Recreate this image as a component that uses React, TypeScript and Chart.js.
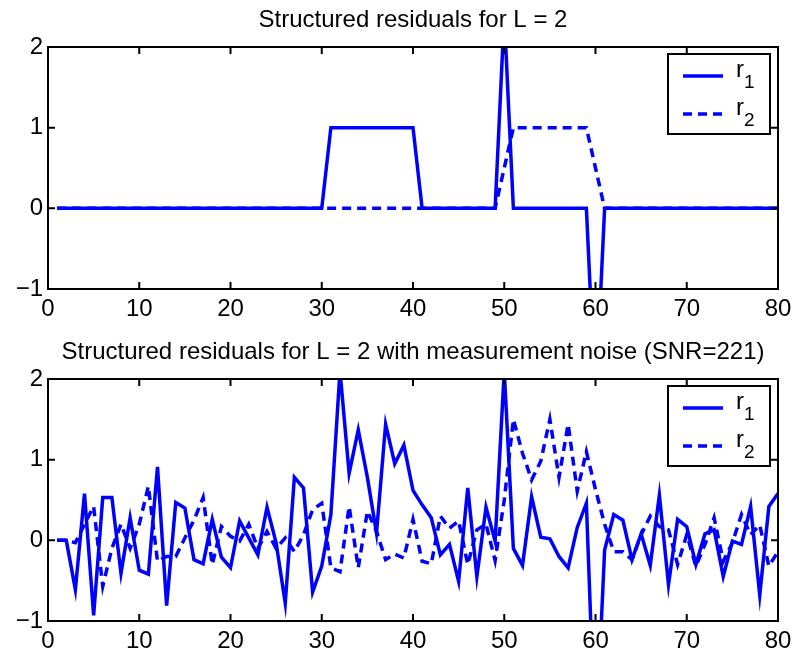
import React, { useEffect, useRef } from 'react';
import { Chart, registerables } from 'chart.js';

Chart.register(...registerables);

const FONT = '"Liberation Sans", Arial, Helvetica, sans-serif';

const sampleIndex = Array.from({ length: 80 }, (_, i) => i + 1);

const r1Clean = [
  0, 0, 0, 0, 0, 0, 0, 0, 0, 0,
  0, 0, 0, 0, 0, 0, 0, 0, 0, 0,
  0, 0, 0, 0, 0, 0, 0, 0, 0, 0,
  1, 1, 1, 1, 1, 1, 1, 1, 1, 1,
  0, 0, 0, 0, 0, 0, 0, 0, 0, 2.4,
  0, 0, 0, 0, 0, 0, 0, 0, 0, -2.4,
  0, 0, 0, 0, 0, 0, 0, 0, 0, 0,
  0, 0, 0, 0, 0, 0, 0, 0, 0, 0,
];

const r2Clean = [
  0, 0, 0, 0, 0, 0, 0, 0, 0, 0,
  0, 0, 0, 0, 0, 0, 0, 0, 0, 0,
  0, 0, 0, 0, 0, 0, 0, 0, 0, 0,
  0, 0, 0, 0, 0, 0, 0, 0, 0, 0,
  0, 0, 0, 0, 0, 0, 0, 0, 0, 0.5,
  1, 1, 1, 1, 1, 1, 1, 1, 1, 0.5,
  0, 0, 0, 0, 0, 0, 0, 0, 0, 0,
  0, 0, 0, 0, 0, 0, 0, 0, 0, 0,
];

const r1Noisy = [
  0, 0, -0.61, 0.58, -0.93, 0.53, 0.53, -0.41, 0.28, -0.37,
  -0.42, 0.91, -0.81, 0.47, 0.4, -0.24, -0.29, 0.26, -0.21, -0.34,
  0.24, 0.03, -0.18, 0.41, -0.03, -0.78, 0.78, 0.65, -0.64, -0.32,
  0.32, 2.1, 0.83, 1.37, 0.78, 0.09, 1.44, 0.95, 1.18, 0.62,
  0.44, 0.28, -0.18, -0.05, -0.51, 0.65, -0.45, 0.41, -0.01, 2.1,
  -0.1, -0.31, 0.54, 0.04, 0.02, -0.2, -0.34, 0.16, 0.46, -2.6,
  -0.12, 0.32, 0.25, -0.24, 0.08, -0.31, 0.56, -0.55, 0.26, 0.17,
  -0.3, 0.08, 0.13, -0.45, -0.01, -0.05, 0.42, -0.68, 0.42, 0.58,
];

const r2Noisy = [
  0, 0, -0.03, 0.2, 0.42, -0.57, -0.1, 0.2, -0.1, 0.2,
  0.67, -0.26, -0.2, -0.2, 0.03, 0.25, 0.53, -0.3, 0.17, 0.05,
  -0.01, 0.2, -0.1, 0.11, -0.1, 0.03, -0.14, 0.07, 0.38, 0.46,
  -0.34, -0.39, 0.42, -0.34, 0.36, 0.11, -0.24, -0.17, -0.22, 0.26,
  -0.26, -0.29, 0.3, 0.15, 0.24, -0.3, 0.13, 0.2, -0.25, 0.5,
  1.5, 1.08, 0.75, 0.98, 1.5, 0.78, 1.44, 0.61, 1.1, 0.63,
  0.2, -0.14, -0.14, -0.24, 0.07, 0.3, 0.17, 0.13, -0.3, 0.07,
  -0.32, -0.05, 0.28, -0.26, -0.03, 0.32, 0.07, 0.19, -0.32, -0.14,
];

const xTicks = [0, 10, 20, 30, 40, 50, 60, 70, 80];
const yTicks = [-1, 0, 1, 2];

const titleTop = 'Structured residuals for L = 2';
const titleBottom = 'Structured residuals for L = 2 with measurement noise (SNR=221)';

const seriesNames = ['r', 'r'];
const seriesSubs = ['1', '2'];

const BLUE = '#0000ff';
const CANVAS_W = 795;
const CANVAS_H = 320;

const fmt = (v: number) => (v < 0 ? '\u2212' + Math.abs(v) : String(v));

const matlabPlugin = {
  id: 'matlabAxes',
  afterDatasetsDraw(chart: any) {
    const { ctx, chartArea, scales } = chart;
    const { left, right, top, bottom } = chartArea;
    const tl = 7;
    ctx.save();
    ctx.strokeStyle = '#000';
    ctx.lineWidth = 2;
    ctx.setLineDash([]);
    ctx.strokeRect(left, top, right - left, bottom - top);
    ctx.beginPath();
    xTicks.forEach((v) => {
      const px = scales.x.getPixelForValue(v);
      ctx.moveTo(px, bottom);
      ctx.lineTo(px, bottom - tl);
      ctx.moveTo(px, top);
      ctx.lineTo(px, top + tl);
    });
    yTicks.forEach((v) => {
      const py = scales.y.getPixelForValue(v);
      ctx.moveTo(left, py);
      ctx.lineTo(left + tl, py);
      ctx.moveTo(right, py);
      ctx.lineTo(right - tl, py);
    });
    ctx.stroke();

    // legend
    const w = 102;
    const h = 80;
    const x0 = right - 8 - w;
    const y0 = top + 7;
    ctx.fillStyle = '#fff';
    ctx.fillRect(x0, y0, w, h);
    ctx.lineWidth = 2;
    ctx.strokeStyle = '#000';
    ctx.strokeRect(x0, y0, w, h);
    chart.data.datasets.forEach((ds: any, i: number) => {
      const ly = y0 + 22 + i * 38;
      ctx.strokeStyle = ds.borderColor;
      ctx.lineWidth = ds.borderWidth;
      ctx.setLineDash(ds.borderDash || []);
      ctx.beginPath();
      ctx.moveTo(x0 + 15, ly);
      ctx.lineTo(x0 + 55, ly);
      ctx.stroke();
      ctx.setLineDash([]);
      ctx.fillStyle = '#000';
      ctx.textBaseline = 'alphabetic';
      ctx.textAlign = 'left';
      ctx.font = '24px ' + FONT;
      ctx.fillText(seriesNames[i], x0 + 68, ly + 1);
      const rw = ctx.measureText(seriesNames[i]).width;
      ctx.font = '19px ' + FONT;
      ctx.fillText(seriesSubs[i], x0 + 68 + rw, ly + 12);
    });
    ctx.restore();
  },
};

function Panel({ title, r1, r2, top }: { title: string; r1: number[]; r2: number[]; top: number }) {
  const ref = useRef<HTMLCanvasElement | null>(null);
  useEffect(() => {
    if (!ref.current) return;
    const font = { family: FONT, size: 24, weight: 'normal' as const, lineHeight: 1.2 };
    const chart = new Chart(ref.current, {
      type: 'line',
      data: {
        datasets: [
          {
            label: 'r1',
            data: sampleIndex.map((x, i) => ({ x, y: r1[i] })),
            borderColor: BLUE,
            backgroundColor: BLUE,
            borderWidth: 3.5,
            pointRadius: 0,
            tension: 0,
            fill: false,
            clip: 0,
          },
          {
            label: 'r2',
            data: sampleIndex.map((x, i) => ({ x, y: r2[i] })),
            borderColor: BLUE,
            backgroundColor: BLUE,
            borderWidth: 3.5,
            borderDash: [9, 6],
            pointRadius: 0,
            tension: 0,
            fill: false,
            clip: 0,
          },
        ],
      },
      options: {
        animation: false,
        responsive: false,
        maintainAspectRatio: false,
        devicePixelRatio: 1,
        events: [],
        layout: { padding: { left: 0, right: 17, top: 0, bottom: 0 } },
        plugins: {
          legend: { display: false },
          tooltip: { enabled: false },
          title: {
            display: true,
            text: title,
            color: '#000',
            fullSize: false,
            font,
            padding: { top: 6, bottom: 12.2 },
          },
        },
        scales: {
          x: {
            type: 'linear',
            min: 0,
            max: 80,
            afterBuildTicks: (s: any) => {
              s.ticks = xTicks.map((v) => ({ value: v }));
            },
            afterFit: (s: any) => {
              s.height = 31;
              s.paddingLeft = 0;
              s.paddingRight = 0;
            },
            grid: { display: false, drawTicks: false },
            border: { display: false },
            ticks: {
              color: '#000',
              font,
              padding: 6,
              maxRotation: 0,
              autoSkip: false,
              callback: (v: any) => fmt(Number(v)),
            },
          },
          y: {
            type: 'linear',
            min: -1,
            max: 2,
            afterBuildTicks: (s: any) => {
              s.ticks = yTicks.map((v) => ({ value: v }));
            },
            afterFit: (s: any) => {
              s.width = 48;
              s.paddingTop = 0;
              s.paddingBottom = 0;
            },
            grid: { display: false, drawTicks: false },
            border: { display: false },
            ticks: {
              color: '#000',
              font,
              padding: 5,
              autoSkip: false,
              callback: (v: any) => fmt(Number(v)),
            },
          },
        },
      },
      plugins: [matlabPlugin],
    } as any);
    return () => chart.destroy();
  }, [title, r1, r2]);
  return (
    <canvas
      ref={ref}
      width={CANVAS_W}
      height={CANVAS_H}
      style={{ position: 'absolute', left: 0, top, width: CANVAS_W, height: CANVAS_H }}
    />
  );
}

export default function App() {
  return (
    <div style={{ position: 'absolute', left: 0, top: 0, width: 795, height: 652, background: '#fff', overflow: 'hidden' }}>
      <Panel title={titleTop} r1={r1Clean} r2={r2Clean} top={0} />
      <Panel title={titleBottom} r1={r1Noisy} r2={r2Noisy} top={332} />
    </div>
  );
}
